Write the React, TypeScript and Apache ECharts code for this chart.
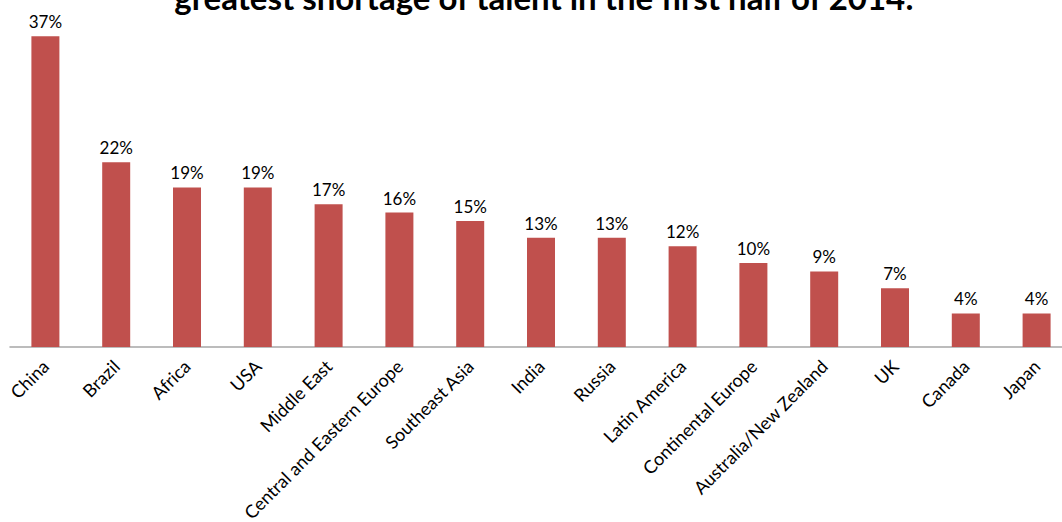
import React, { useEffect, useRef } from "react";
import * as echarts from "echarts";

const titleText = "greatest shortage of talent in the first half of 2014:";
const categories = [
  "China",
  "Brazil",
  "Africa",
  "USA",
  "Middle East",
  "Central and Eastern Europe",
  "Southeast Asia",
  "India",
  "Russia",
  "Latin America",
  "Continental Europe",
  "Australia/New Zealand",
  "UK",
  "Canada",
  "Japan",
];
const values = [37, 22, 19, 19, 17, 16, 15, 13, 13, 12, 10, 9, 7, 4, 4];

export default function App() {
  const ref = useRef<HTMLDivElement>(null);
  useEffect(() => {
    if (!ref.current) return;
    const chart = echarts.init(ref.current, null, { renderer: "svg" });
    chart.setOption({
      animation: false,
      backgroundColor: "#ffffff",
      textStyle: { fontFamily: "Lato" },
      graphic: [
        {
          type: "text",
          x: 544,
          y: 13,
          style: {
            text: titleText,
            font: "bold 33px Lato",
            fill: "#000000",
            align: "center",
            verticalAlign: "bottom",
          },
        },
      ],
      grid: {
        left: 10,
        right: 0,
        top: 11,
        bottom: 175,
        containLabel: false,
        outerBoundsMode: "none",
      },
      xAxis: {
        type: "category",
        data: categories,
        axisLine: { lineStyle: { color: "#A6A6A6", width: 1.5 } },
        axisTick: { show: false },
        axisLabel: {
          rotate: 45,
          interval: 0,
          fontSize: 18,
          color: "#000000",
          fontFamily: "Lato",
          margin: 16,
        },
      },
      yAxis: {
        type: "value",
        min: 0,
        max: 40,
        show: false,
        splitLine: { show: false },
      },
      series: [
        {
          type: "bar",
          data: values,
          barWidth: 28,
          itemStyle: { color: "#C0504D" },
          label: {
            show: true,
            position: "top",
            distance: 6,
            formatter: "{c}%",
            fontSize: 17,
            color: "#000000",
            fontFamily: "Lato",
          },
        },
      ],
    });
    return () => chart.dispose();
  }, []);
  return (
    <div
      ref={ref}
      style={{ position: "fixed", left: 0, top: 0, width: 1072, height: 522 }}
    />
  );
}
